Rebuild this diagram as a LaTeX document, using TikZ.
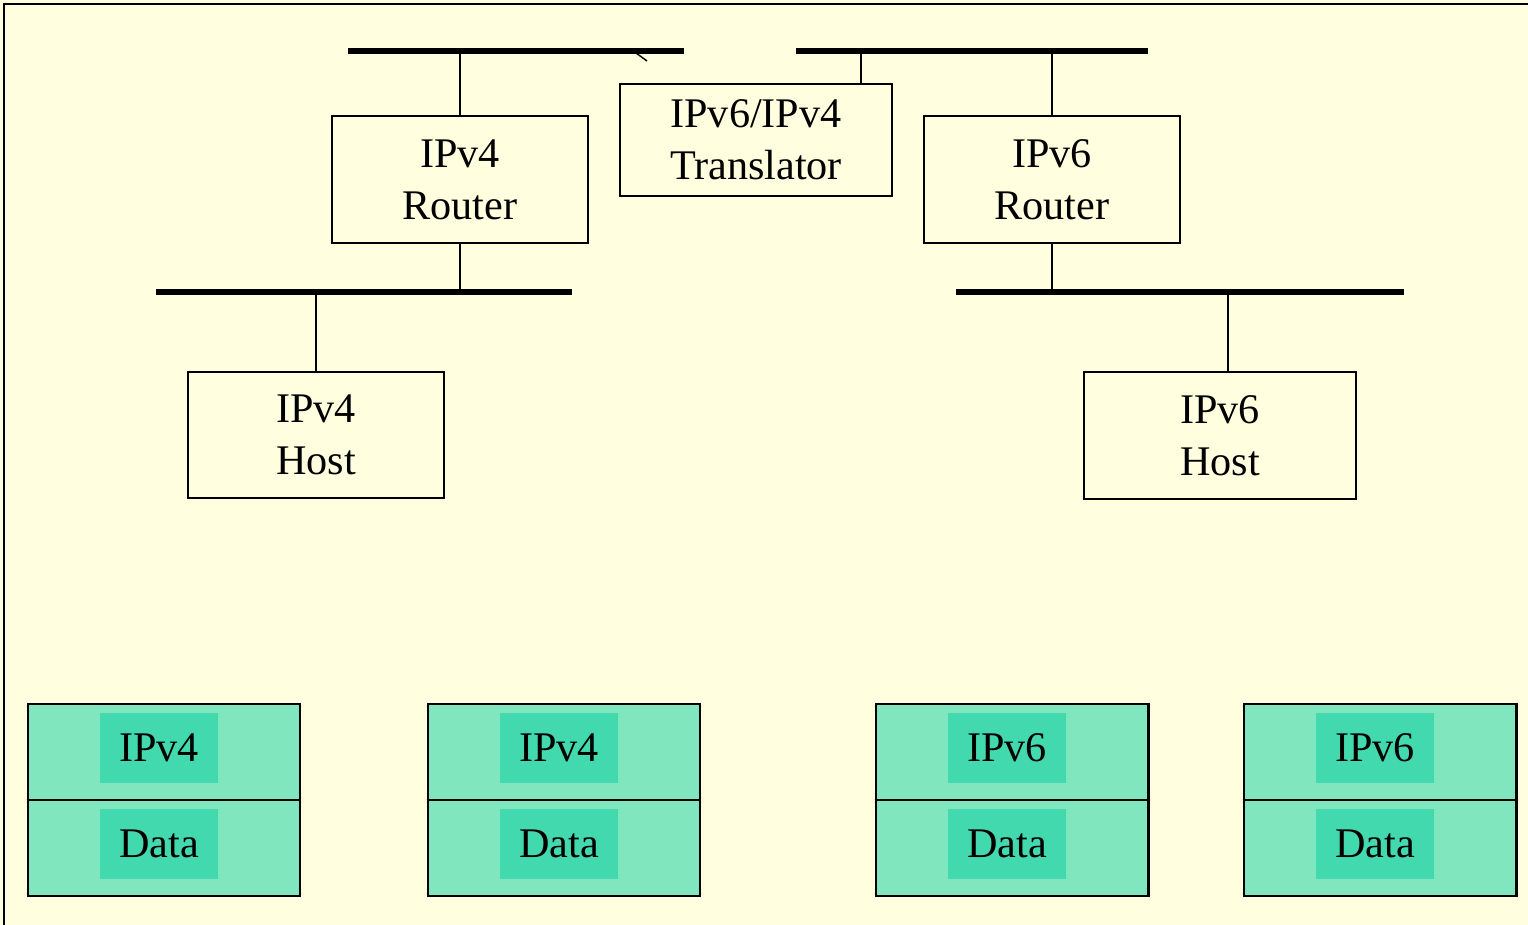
\documentclass[tikz,border=0pt]{standalone}
\usepackage{fontspec}
\setmainfont{Liberation Serif}
\definecolor{paper}{RGB}{255,255,224}
\definecolor{pktlight}{RGB}{128,230,190}
\definecolor{pktdark}{RGB}{66,217,174}
\tikzset{
  devbox/.style={draw=black, line width=0.6pt, inner sep=0pt, align=center,
    font=\fontsize{12}{14.8}\selectfont},
  bus/.style={line width=1.5pt},
  link/.style={line width=0.6pt},
  pkt/.style={draw=black, line width=0.8pt, fill=pktlight, inner sep=0pt,
    minimum width=2.72cm, minimum height=1.92cm},
  hdr/.style={fill=pktdark, inner sep=0pt, minimum width=1.18cm, minimum height=0.7cm,
    font=\fontsize{12}{14.8}\selectfont}
}
\begin{document}
\begin{tikzpicture}[x=0.01cm, y=-0.01cm]
  % page and frame
  \fill[paper] (0,0) rectangle (1528,925);
  \useasboundingbox (0,0) rectangle (1528,925);
  \draw[line width=0.6pt] (4,925) -- (4,4) -- (1528,4);

  % network segments
  \coordinate (btlA) at (348,51);  \coordinate (btlB) at (684,51);
  \coordinate (btrA) at (796,51);  \coordinate (btrB) at (1148,51);
  \coordinate (bmlA) at (156,292); \coordinate (bmlB) at (572,292);
  \coordinate (bmrA) at (956,292); \coordinate (bmrB) at (1404,292);
  \draw[bus] (btlA) -- (btlB);
  \draw[bus] (btrA) -- (btrB);
  \draw[bus] (bmlA) -- (bmlB);
  \draw[bus] (bmrA) -- (bmrB);
  \coordinate (tickA) at (636,53); \coordinate (tickB) at (647,61);
  \draw[line width=0.4pt] (tickA) -- (tickB);

  % devices
  \node[devbox, minimum width=2.56cm, minimum height=1.27cm] (r4) at (460,179.5) {IPv4\\Router};
  \node[devbox, minimum width=2.72cm, minimum height=1.12cm] (tr) at (756,140) {IPv6/IPv4\\Translator};
  \node[devbox, minimum width=2.56cm, minimum height=1.27cm] (r6) at (1052,179.5) {IPv6\\Router};
  \node[devbox, minimum width=2.56cm, minimum height=1.26cm] (h4) at (316,435) {IPv4\\Host};
  \node[devbox, minimum width=2.72cm, minimum height=1.27cm] (h6) at (1220,435.5) {IPv6\\Host};

  % attachments to segments
  \draw[link] (r4.north) -- (r4.north |- btlA);
  \draw[link] (r4.south) -- (r4.south |- bmlA);
  \draw[link] ([xshift=-0.32cm]tr.north east) -- ([xshift=-0.32cm]tr.north east |- btrA);
  \draw[link] (r6.north) -- (r6.north |- btrA);
  \draw[link] (r6.south) -- (r6.south |- bmrA);
  \draw[link] (h4.north) -- (h4.north |- bmlA);
  \coordinate (h6tap) at (1228,372);
  \draw[link] (h6tap) -- (h6tap |- bmrA);

  % packet formats
  \foreach \n/\cx/\proto in {p1/164/IPv4, p2/564/IPv4, p3/1012/IPv6, p4/1380/IPv6}{
    \node[pkt] (\n) at (\cx,800) {};
    \draw[line width=0.8pt] (\n.west) -- (\n.east);
    \node[hdr] (\n h) at (\cx-5,748) {\proto};
    \node[hdr] (\n d) at (\cx-5,844) {Data};
  }
\end{tikzpicture}
\end{document}
